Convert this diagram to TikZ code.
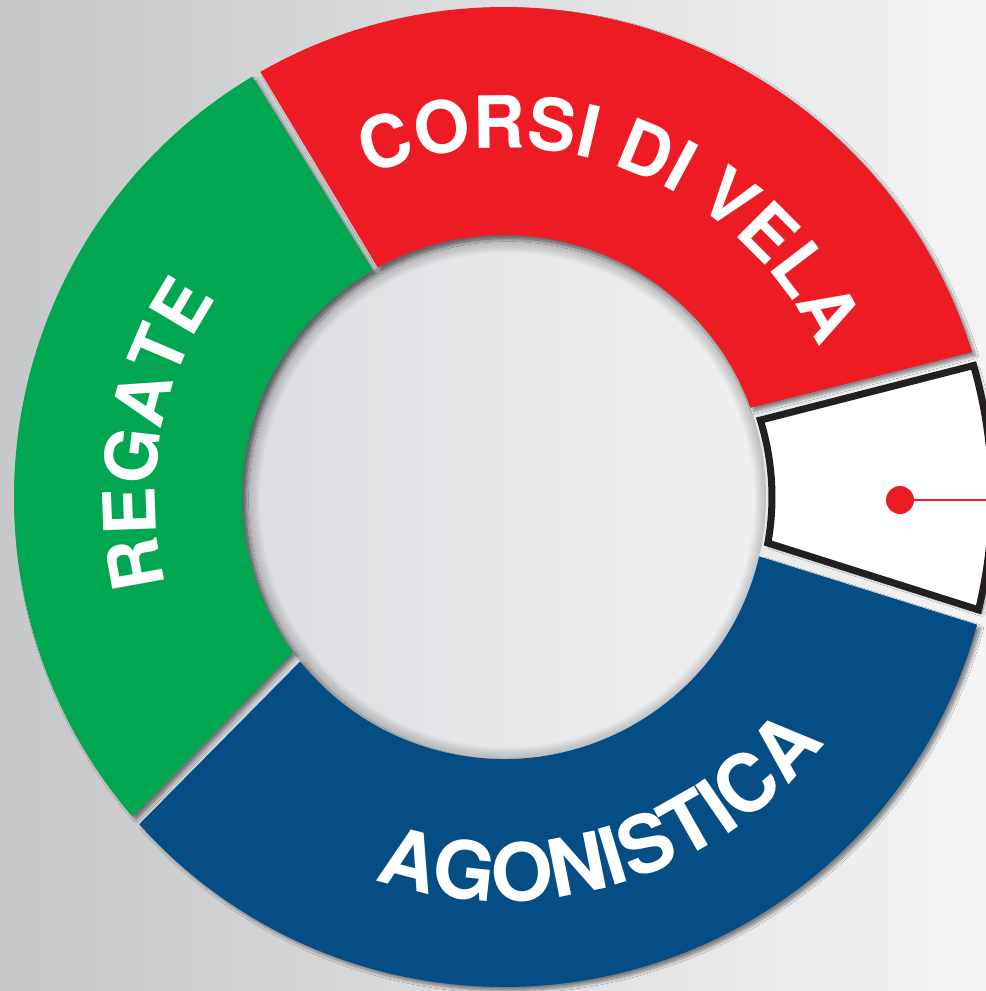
\documentclass[tikz,border=0pt]{standalone}
\usepackage{fontspec}
\newfontfamily\heros{TeX Gyre Heros}
\usetikzlibrary{decorations.text,shadows.blur}
\definecolor{velared}{HTML}{ED1C24}
\definecolor{regategreen}{HTML}{00A650}
\definecolor{agoblue}{HTML}{044E85}
\definecolor{rim}{HTML}{231F20}
\definecolor{bgleft}{HTML}{C6C7C9}
\definecolor{bgright}{HTML}{F4F4F4}
\definecolor{holeleft}{HTML}{DCDDE0}
\definecolor{holeright}{HTML}{EFF0F1}
\newcommand\lbl{\heros\bfseries\fontsize{41pt}{41pt}\selectfont}
\newcommand\lblbig{\heros\bfseries\fontsize{45.5pt}{45.5pt}\selectfont}
\tikzset{
	seg/.style={fill=#1,blur shadow={shadow xshift=2pt,shadow yshift=-2pt,shadow blur steps=8,shadow opacity=45}},
	arctext/.style={decorate,decoration={text along path,text={|\lbl|#1},text align=center,text color=white}},
	bigarctext/.style={decorate,decoration={text along path,text={|\lblbig|#1},text align=center,text color=white}},
	dot/.style={circle,inner sep=0pt,minimum size=0.56cm,fill=velared}
}
\begin{document}
\begin{tikzpicture}
	\useasboundingbox (-10.08,-9.88) rectangle (9.64,9.94);
	\shade[left color=bgleft,right color=bgright] (-10.08,-9.88) rectangle (9.64,9.94);

	\shade[left color=holeleft,right color=holeright] (0,0) circle[radius=5.24cm];
	\begin{scope}
		\clip (0,0) circle[radius=5.24cm];
		\foreach \w in {1,...,12}
			\draw[black,opacity=0.018,line width=\w*1.4pt] (0.06,-0.06) circle[radius=5.24cm];
	\end{scope}

	\path[seg=regategreen] (120.9:9.8) arc[start angle=120.9,end angle=220.7,radius=9.8cm]
		-- (216.3:5.24) arc[start angle=216.3,end angle=120,radius=5.24cm] -- cycle;
	\path[seg=velared] (17.2:9.8) arc[start angle=17.2,end angle=119.8,radius=9.8cm]
		-- (118.8:5.24) arc[start angle=118.8,end angle=19.9,radius=5.24cm] -- cycle;
	\path[seg=agoblue] (221.9:9.8) arc[start angle=221.9,end angle=344.9,radius=9.8cm]
		-- (346.9:5.24) arc[start angle=346.9,end angle=218.9,radius=5.24cm] -- cycle;
	\begin{scope}[shift={(0.16,0)}]
		\path[seg=white,draw=rim,line width=4pt,line join=miter] (-13.6:9.6) arc[start angle=-13.6,end angle=15.9,radius=9.6cm]
			-- (17.2:5.2) arc[start angle=17.2,end angle=-10.2,radius=5.2cm] -- cycle;
	\end{scope}

	\path[arctext={CORSI DI VELA}] (159:6.98) arc[start angle=159,end angle=-21,radius=6.98cm];
	\path[arctext={REGATE}] (260:6.98) arc[start angle=260,end angle=80,radius=6.98cm];
	\path[bigarctext={AGONISTICA}] (196.9:8.08) arc[start angle=196.9,end angle=376.9,radius=8.08cm];

	\node[dot] (pin) at (7.92,-0.06) {};
	\coordinate (pinend) at (9.64,-0.06);
	\draw[velared,line width=1.7pt] (pin) -- (pinend);
\end{tikzpicture}
\end{document}
